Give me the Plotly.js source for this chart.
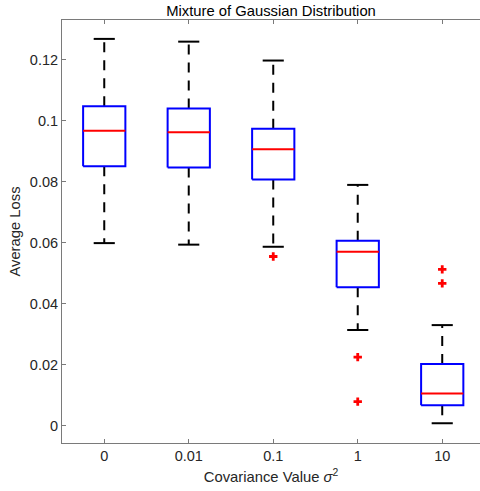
<!DOCTYPE html>
<html>
<head>
<meta charset="utf-8">
<script src="https://cdn.plot.ly/plotly-3.0.1.min.js"></script>
<style>html,body{margin:0;padding:0;background:#fff;}#chart{width:480px;height:491px;}</style>
</head>
<body>
<div id="chart"></div>
<script>
const categories = ['0', '0.01', '0.1', '1', '10'];
const upperWhisker = [0.1269, 0.1260, 0.1198, 0.0790, 0.0330];
const q3 = [0.1048, 0.1041, 0.0974, 0.0607, 0.0202];
const median = [0.0968, 0.0963, 0.0907, 0.0571, 0.0106];
const q1 = [0.0851, 0.0847, 0.0808, 0.0454, 0.0067];
const lowerWhisker = [0.0599, 0.0594, 0.0587, 0.0314, 0.0008];
const outlierCat = ['0.1', '1', '1', '10', '10'];
const outlierVal = [0.0555, 0.0225, 0.0079, 0.0513, 0.0467];
const yTickVals = [0, 0.02, 0.04, 0.06, 0.08, 0.1, 0.12];
const yTickText = ['0', '0.02', '0.04', '0.06', '0.08', '0.1', '0.12'];

const boxHalf = 0.25, capHalf = 0.125;
const pos = categories.map((c, i) => i + 1);

const wx = [], wy = [], cx = [], cy = [], bx = [], by = [], mx = [], my = [];
pos.forEach((p, i) => {
  wx.push(p, p, null, p, p, null);
  wy.push(q3[i], upperWhisker[i], null, q1[i], lowerWhisker[i], null);
  cx.push(p - capHalf, p + capHalf, null, p - capHalf, p + capHalf, null);
  cy.push(upperWhisker[i], upperWhisker[i], null, lowerWhisker[i], lowerWhisker[i], null);
  bx.push(p - boxHalf, p + boxHalf, p + boxHalf, p - boxHalf, p - boxHalf, null);
  by.push(q1[i], q1[i], q3[i], q3[i], q1[i], null);
  mx.push(p - boxHalf, p + boxHalf, null);
  my.push(median[i], median[i], null);
});
const ox = outlierCat.map(c => categories.indexOf(c) + 1);

const traces = [
  {x: wx, y: wy, mode: 'lines', line: {color: '#000', width: 2, dash: '10px,8px'}, hoverinfo: 'skip'},
  {x: cx, y: cy, mode: 'lines', line: {color: '#000', width: 2}, hoverinfo: 'skip'},
  {x: bx, y: by, mode: 'lines', line: {color: '#0000ff', width: 2}, hoverinfo: 'skip'},
  {x: mx, y: my, mode: 'lines', line: {color: '#ff0000', width: 2}, hoverinfo: 'skip'},
  {x: ox, y: outlierVal, mode: 'markers', marker: {symbol: 'cross', size: 7, color: '#ff0000', line: {width: 0}}, hoverinfo: 'skip'}
];

const font = {family: 'Liberation Sans, Arial, sans-serif', size: 14.5, color: '#262626'};
const layout = {
  width: 480, height: 491,
  margin: {l: 62, r: 0, t: 20, b: 48},
  paper_bgcolor: '#fff', plot_bgcolor: '#fff',
  showlegend: false,
  font: font,
  title: {text: 'Mixture of Gaussian Distribution', font: {size: 14.8, color: '#000'}, xref: 'paper', x: 0.5, xanchor: 'center', yref: 'paper', y: 1, yanchor: 'bottom', pad: {b: 4}},
  xaxis: {
    range: [0.5, 5.447],
    tickmode: 'array', tickvals: pos, ticktext: categories,
    showline: true, linecolor: '#7a7a7a', linewidth: 1, mirror: 'ticks',
    ticks: 'inside', ticklen: 4, tickcolor: '#7a7a7a',
    showgrid: false, zeroline: false,
    tickfont: {size: 14.5, color: '#262626'},
    title: {text: 'Covariance Value <i>σ</i><sup>2</sup>', font: {size: 14.8, color: '#262626'}, standoff: 8}
  },
  yaxis: {
    range: [-0.00568, 0.1331],
    tickmode: 'array', tickvals: yTickVals, ticktext: yTickText,
    showline: true, linecolor: '#7a7a7a', linewidth: 1, mirror: false,
    ticks: 'inside', ticklen: 4, tickcolor: '#7a7a7a',
    showgrid: false, zeroline: false,
    tickfont: {size: 14.5, color: '#262626'},
    title: {text: 'Average Loss', font: {size: 14.8, color: '#262626'}, standoff: 5}
  }
};
Plotly.newPlot('chart', traces, layout, {displayModeBar: false, staticPlot: true});
</script>
</body>
</html>
